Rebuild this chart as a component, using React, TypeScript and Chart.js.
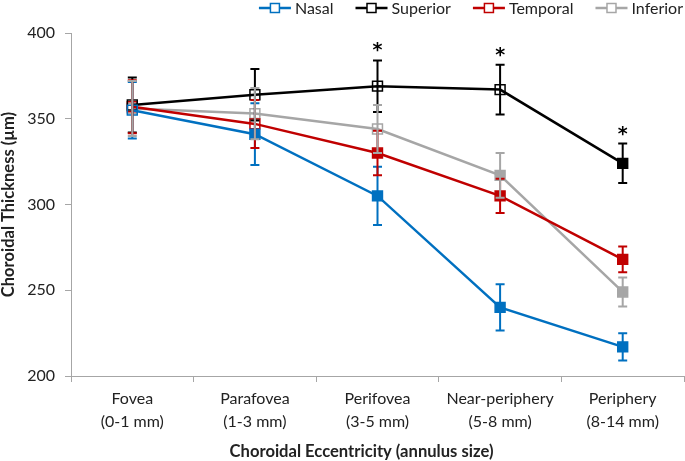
import React, { useEffect, useRef } from "react";
import { Chart, registerables } from "chart.js";

Chart.register(...registerables);

const categories: string[][] = [
  ["Fovea", "(0-1 mm)"],
  ["Parafovea", "(1-3 mm)"],
  ["Perifovea", "(3-5 mm)"],
  ["Near-periphery", "(5-8 mm)"],
  ["Periphery", "(8-14 mm)"],
];

const seriesNames = ["Nasal", "Superior", "Temporal", "Inferior"];
const seriesColors = ["#0070C0", "#000000", "#C00000", "#A6A6A6"];

const nasal = [355, 341, 305, 240, 217];
const superior = [358, 364, 369, 367, 324];
const temporal = [357, 347, 330, 305, 268];
const inferior = [356, 353, 344, 317, 249];

const nasalErr = [16.5, 18, 17, 13.5, 8];
const superiorErr = [16, 15, 15, 14.5, 11.5];
const temporalErr = [15.5, 14, 13, 10, 7.5];
const inferiorErr = [16, 15, 14, 13, 8.5];

// filled marker = significant difference
const nasalFilled = [false, true, true, true, true];
const superiorFilled = [false, false, false, false, true];
const temporalFilled = [false, false, true, true, true];
const inferiorFilled = [false, false, false, true, true];

const significance = ["", "", "*", "*", "*"];

const yTicks = { min: 200, max: 400, step: 50 };
const xTitle = "Choroidal Eccentricity (annulus size)";
const yTitle = "Choroidal Thickness (µm)";

const FONT = "Lato, 'Open Sans', sans-serif";
const TEXT = "#222222";
const AXIS = "#A6A6A6";

const values = [nasal, superior, temporal, inferior];
const errors = [nasalErr, superiorErr, temporalErr, inferiorErr];
const filled = [nasalFilled, superiorFilled, temporalFilled, inferiorFilled];

const errorBarPlugin = {
  id: "errorBars",
  afterDatasetsDraw(chart: any) {
    const ctx = chart.ctx;
    const xs = chart.scales.x;
    const ys = chart.scales.y;
    ctx.save();
    for (let d = 0; d < values.length; d++) {
      ctx.strokeStyle = seriesColors[d];
      ctx.lineWidth = 2;
      values[d].forEach((v, i) => {
        const x = xs.getPixelForValue(i);
        const yt = ys.getPixelForValue(v + errors[d][i]);
        const yb = ys.getPixelForValue(v - errors[d][i]);
        ctx.beginPath();
        ctx.moveTo(x, yt);
        ctx.lineTo(x, yb);
        ctx.moveTo(x - 4.5, yt);
        ctx.lineTo(x + 4.5, yt);
        ctx.moveTo(x - 4.5, yb);
        ctx.lineTo(x + 4.5, yb);
        ctx.stroke();
      });
    }
    ctx.restore();
  },
};

const asteriskPlugin = {
  id: "asterisks",
  afterDraw(chart: any) {
    const ctx = chart.ctx;
    const xs = chart.scales.x;
    const ys = chart.scales.y;
    ctx.save();
    ctx.fillStyle = "#000";
    ctx.font = `bold 19px 'DejaVu Sans', sans-serif`;
    ctx.textAlign = "center";
    ctx.textBaseline = "alphabetic";
    significance.forEach((s, i) => {
      if (!s) return;
      let top = Infinity;
      values.forEach((vals, d) => {
        const y = ys.getPixelForValue(vals[i] + errors[d][i]);
        if (y < top) top = y;
      });
      const m = ctx.measureText(s);
      const mid = (m.actualBoundingBoxAscent - m.actualBoundingBoxDescent) / 2;
      ctx.fillText(s, xs.getPixelForValue(i), top - 13 + mid);
    });
    ctx.restore();
  },
};

const xTitlePlugin = {
  id: "xTitle",
  afterDraw(chart: any) {
    const ctx = chart.ctx;
    ctx.save();
    ctx.fillStyle = TEXT;
    ctx.font = `bold 16.6px ${FONT}`;
    ctx.textAlign = "center";
    ctx.textBaseline = "middle";
    ctx.fillText(xTitle, 361.5, 452);
    ctx.restore();
  },
};

const legendPlugin = {
  id: "customLegend",
  afterDraw(chart: any) {
    const ctx = chart.ctx;
    ctx.save();
    ctx.font = `16px ${FONT}`;
    const lineW = 32;
    const gap = 4;
    const itemGap = 22;
    const y = 8;
    let right = 683;
    for (let i = seriesNames.length - 1; i >= 0; i--) {
      const name = seriesNames[i];
      const w = ctx.measureText(name).width;
      ctx.fillStyle = TEXT;
      ctx.textAlign = "right";
      ctx.textBaseline = "middle";
      ctx.fillText(name, right, y + 1);
      const x = right - w - gap - lineW;
      ctx.strokeStyle = seriesColors[i];
      ctx.lineWidth = 2.5;
      ctx.beginPath();
      ctx.moveTo(x, y);
      ctx.lineTo(x + lineW, y);
      ctx.stroke();
      ctx.fillStyle = "#fff";
      ctx.lineWidth = 1.5;
      ctx.fillRect(x + lineW / 2 - 4.5, y - 4.5, 9, 9);
      ctx.strokeRect(x + lineW / 2 - 4.5, y - 4.5, 9, 9);
      right = x - itemGap;
    }
    ctx.restore();
  },
};

export default function App() {
  const ref = useRef<HTMLCanvasElement | null>(null);
  useEffect(() => {
    document.body.style.margin = "0";
    if (!ref.current) return;
    const chart = new Chart(ref.current, {
      type: "line",
      data: {
        labels: categories as any,
        datasets: seriesNames.map((name, d) => ({
          label: name,
          data: values[d],
          borderColor: seriesColors[d],
          backgroundColor: seriesColors[d],
          borderWidth: 2.5,
          tension: 0,
          clip: false as any,
          pointStyle: "rect",
          pointRadius: 7,
          pointBorderWidth: 1.5,
          pointBorderColor: seriesColors[d],
          pointBackgroundColor: filled[d].map((f) => (f ? seriesColors[d] : "rgba(255,255,255,0)")),
        })),
      },
      options: {
        animation: false,
        responsive: true,
        maintainAspectRatio: false,
        events: [],
        layout: { autoPadding: false, padding: { top: 33, right: 1, left: 0, bottom: 0 } },
        plugins: {
          legend: { display: false },
          tooltip: { enabled: false },
        },
        scales: {
          x: {
            type: "category",
            offset: true,
            grid: { offset: true, drawOnChartArea: false, drawTicks: true, tickLength: 6, color: AXIS },
            border: { color: AXIS, width: 1 },
            ticks: {
              color: TEXT,
              font: { family: FONT, size: 16, lineHeight: 1.4 },
              maxRotation: 0,
              autoSkip: false,
              padding: 6,
            },
            title: { display: false },
            afterFit: (s: any) => {
              s.height = 85;
            },
          },
          y: {
            min: yTicks.min,
            max: yTicks.max,
            grid: { drawOnChartArea: false, drawTicks: true, tickLength: 6, color: AXIS },
            border: { color: AXIS, width: 1 },
            ticks: {
              stepSize: yTicks.step,
              color: TEXT,
              font: { family: FONT, size: 16 },
              padding: 10,
            },
            title: {
              display: true,
              text: yTitle,
              color: TEXT,
              font: { family: FONT, size: 16.5, weight: "bold", lineHeight: 1 },
              padding: { top: 0, bottom: 0 },
            },
            afterFit: (s: any) => {
              s.width = 71;
            },
          },
        },
      },
      plugins: [errorBarPlugin, asteriskPlugin, xTitlePlugin, legendPlugin],
    });
    return () => chart.destroy();
  }, []);
  return (
    <div style={{ width: 685, height: 461, position: "relative" }}>
      <canvas ref={ref} />
    </div>
  );
}
